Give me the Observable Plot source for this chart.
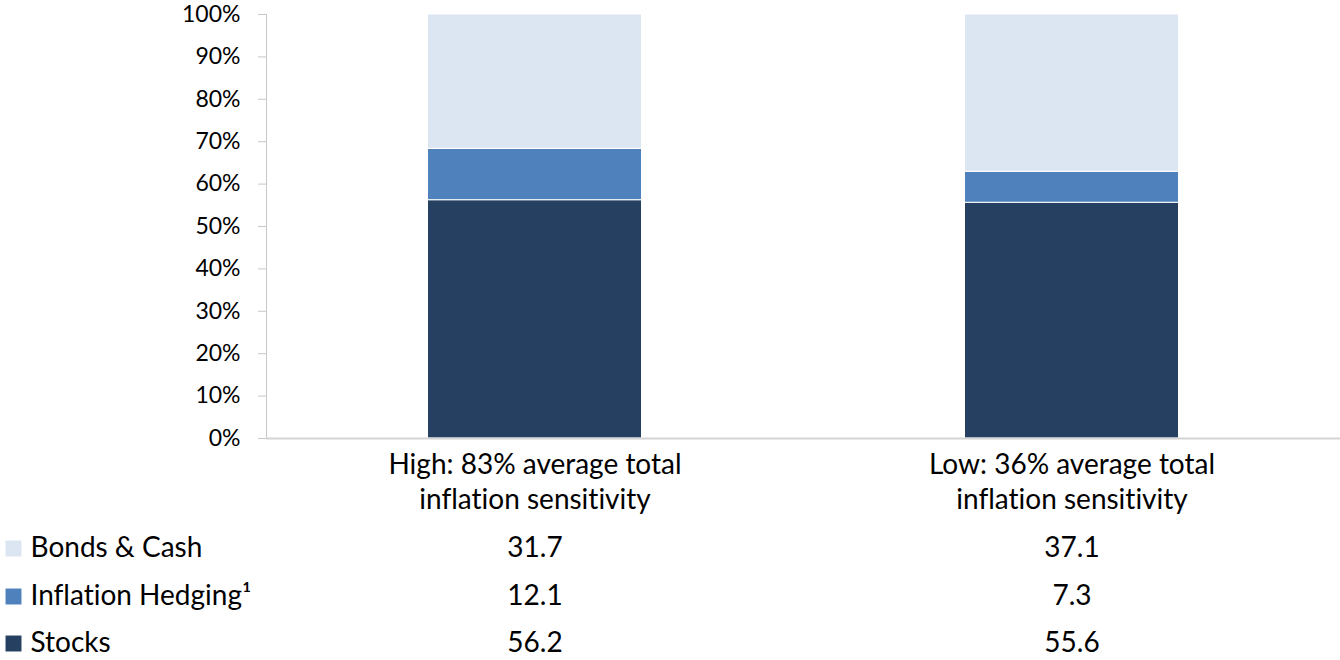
<!DOCTYPE html>
<html>
<head>
<meta charset="utf-8">
<script src="https://cdn.jsdelivr.net/npm/d3@7"></script>
<script src="https://cdn.jsdelivr.net/npm/@observablehq/plot@0.6"></script>
<style>
  html, body { margin: 0; padding: 0; background: #fff; }
  svg text { font-variant-ligatures: none; font-feature-settings: "liga" 0, "clig" 0; }
</style>
</head>
<body>
<div id="chart"></div>
<script>
const categories = ["High: 83% average total\ninflation sensitivity", "Low: 36% average total\ninflation sensitivity"];
const seriesNames = ["Stocks", "Inflation Hedging\u00b9", "Bonds & Cash"];
const stocks = [56.2, 55.6];
const hedging = [12.1, 7.3];
const bonds = [31.7, 37.1];
const colors = ["#264061", "#4F81BD", "#DCE6F2"];
const yTicks = [0, 10, 20, 30, 40, 50, 60, 70, 80, 90, 100];

const seriesValues = [stocks, hedging, bonds];
const data = [];
seriesNames.forEach((s, i) => categories.forEach((c, j) => data.push({series: s, category: c, value: seriesValues[i][j]})));

// table rows: top row Bonds & Cash, then Inflation Hedging, then Stocks
const tableOrder = [2, 1, 0];
const rowOffsets = [110, 158, 205];
const font = "Lato, 'Open Sans', sans-serif";

const tableMarks = [];
tableOrder.forEach((si, r) => {
  const rows = data.filter(d => d.series === seriesNames[si]);
  tableMarks.push(Plot.text(rows, {x: "category", y: 0, dy: rowOffsets[r], text: d => d.value.toFixed(1), fill: "black", fontSize: 28}));
  tableMarks.push(Plot.dot([seriesNames[si]], {y: 0, frameAnchor: "left", dx: -253, dy: rowOffsets[r], symbol: "square", r: 9, fill: colors[si], stroke: null}));
  tableMarks.push(Plot.text([seriesNames[si]], {y: 0, frameAnchor: "left", dx: -236, dy: rowOffsets[r], textAnchor: "start", fill: "black", fontSize: 28}));
});

const chart = Plot.plot({
  width: 1340,
  height: 660,
  marginTop: 14,
  marginBottom: 222,
  marginLeft: 266,
  marginRight: 0,
  style: {fontFamily: font, fontSize: "23px", color: "black", background: "white"},
  x: {domain: categories, padding: 0, axis: null},
  y: {domain: [0, 100], axis: null},
  color: {domain: seriesNames, range: colors},
  marks: [
    Plot.barY(data, Plot.stackY({x: "category", y: "value", fill: "series", order: seriesNames, insetLeft: 161.5, insetRight: 161.5, stroke: "white", strokeWidth: 1})),
    Plot.axisY({ticks: yTicks, tickSize: 8, tickPadding: 18, tickFormat: d => d + "%", stroke: "#c8c8c8", fill: "black", fontSize: 23, label: null}),
    Plot.frame({anchor: "left", stroke: "#c8c8c8"}),
    Plot.ruleY([0], {stroke: "#d4d4d4", strokeWidth: 2}),
    Plot.text(categories, {x: d => d, y: 0, dy: 42, lineAnchor: "middle", lineHeight: 1.25, fill: "black", fontSize: 28}),
    ...tableMarks
  ]
});
document.getElementById("chart").appendChild(chart);
</script>
</body>
</html>
